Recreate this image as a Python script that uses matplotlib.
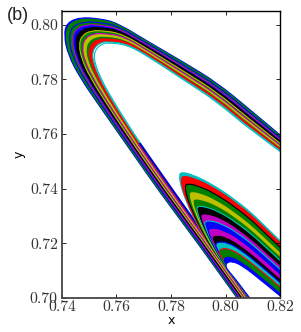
#!/usr/bin/env python3
"""Nested fold bands of an attractor, panel (b)."""

import matplotlib
matplotlib.use('Agg')
import matplotlib.pyplot as plt
import numpy as np
from matplotlib.patches import PathPatch
from matplotlib.path import Path

# all curve values are read off the picture, in units of 1e-4
# large fold: outermost curve first, each curve runs right end -> tip -> bottom
big_x_top = [8250, 8090, 7969, 7844, 7723]
big_x = [
    [7602, 7539, 7466, 7418, 7407, 7422, 7466, 7539, 7650, 7760, 7906, 8042, 8127],
    [7604, 7540, 7470, 7424, 7413, 7427, 7470, 7541, 7652, 7762, 7907, 8043, 8128],
    [7608, 7543, 7479, 7436, 7425, 7438, 7477, 7546, 7656, 7766, 7910, 8046, 8131],
    [7612, 7546, 7488, 7448, 7437, 7449, 7485, 7550, 7660, 7770, 7913, 8049, 8134],
    [7616, 7549, 7497, 7460, 7449, 7460, 7493, 7555, 7664, 7774, 7916, 8052, 8137],
    [7620, 7552, 7506, 7473, 7462, 7472, 7501, 7560, 7668, 7778, 7919, 8055, 8140],
    [7625, 7555, 7515, 7485, 7474, 7482, 7509, 7564, 7672, 7782, 7922, 8058, 8143],
    [7629, 7558, 7524, 7497, 7486, 7493, 7516, 7569, 7676, 7786, 7925, 8061, 8146],
    [7633, 7561, 7533, 7509, 7498, 7504, 7524, 7573, 7680, 7790, 7928, 8064, 8149],
    [7637, 7564, 7543, 7522, 7511, 7516, 7533, 7578, 7684, 7794, 7931, 8067, 8152],
    [7639, 7565, 7547, 7528, 7517, 7521, 7536, 7580, 7686, 7796, 7932, 8068, 8153],
]
big_y = [
    [7555, 7689, 7788, 7864, 7934, 8007, 8022, 8027, 8007, 7963, 7890, 7806, 7700, 7542, 7385, 7190, 7000, 6883],
    [7552, 7685, 7784, 7861, 7931, 8003, 8018, 8022, 8002, 7959, 7889, 7807, 7702, 7543, 7386, 7192, 7001, 6884],
    [7546, 7677, 7777, 7854, 7925, 7994, 8008, 8011, 7992, 7951, 7885, 7808, 7705, 7546, 7389, 7195, 7004, 6887],
    [7540, 7669, 7769, 7846, 7919, 7985, 7998, 8001, 7982, 7943, 7882, 7809, 7709, 7549, 7392, 7198, 7007, 6890],
    [7534, 7661, 7761, 7839, 7913, 7977, 7989, 7990, 7972, 7935, 7879, 7810, 7713, 7552, 7395, 7201, 7010, 6893],
    [7527, 7652, 7753, 7831, 7906, 7967, 7978, 7978, 7961, 7926, 7875, 7811, 7716, 7554, 7397, 7205, 7013, 6896],
    [7521, 7644, 7745, 7824, 7900, 7958, 7968, 7967, 7951, 7918, 7872, 7813, 7720, 7557, 7400, 7208, 7016, 6899],
    [7515, 7636, 7738, 7817, 7894, 7949, 7959, 7956, 7941, 7910, 7869, 7814, 7724, 7560, 7403, 7212, 7019, 6902],
    [7509, 7628, 7730, 7810, 7888, 7941, 7949, 7946, 7931, 7902, 7866, 7815, 7727, 7563, 7406, 7215, 7022, 6905],
    [7503, 7619, 7722, 7802, 7882, 7931, 7938, 7934, 7920, 7894, 7862, 7816, 7731, 7566, 7409, 7218, 7025, 6908],
    [7500, 7615, 7718, 7799, 7879, 7927, 7934, 7929, 7915, 7890, 7861, 7817, 7733, 7567, 7410, 7220, 7026, 6909],
]
big_colors = ['b', 'g', 'g', 'b', 'k', 'g', 'y', 'g', 'r', 'white', 'white']
big_edges = ['b', 'g', 'b', 'm', 'k', 'y', 'm', 'y', 'r', 'c', 'c']

# small fold inside the large one
hook_x = [
    [8255, 8127, 8028, 7943, 7881, 7840, 7829, 7837, 7851, 7881, 7943, 7991, 8134],
    [8255, 8127, 8029, 7946, 7886, 7846, 7836, 7844, 7859, 7888, 7949, 7996, 8136],
    [8255, 8128, 8032, 7953, 7896, 7859, 7851, 7859, 7874, 7903, 7960, 8006, 8140],
    [8255, 8128, 8035, 7959, 7905, 7872, 7865, 7874, 7889, 7917, 7972, 8015, 8144],
    [8255, 8129, 8038, 7966, 7915, 7885, 7879, 7889, 7904, 7931, 7983, 8025, 8147],
    [8255, 8130, 8041, 7972, 7925, 7898, 7894, 7904, 7919, 7946, 7994, 8035, 8151],
    [8255, 8130, 8044, 7979, 7934, 7911, 7908, 7919, 7934, 7960, 8006, 8044, 8155],
    [8255, 8131, 8047, 7985, 7944, 7924, 7923, 7934, 7949, 7975, 8017, 8054, 8159],
    [8255, 8131, 8050, 7992, 7954, 7937, 7937, 7949, 7964, 7989, 8029, 8064, 8163],
    [8255, 8132, 8052, 7998, 7963, 7950, 7951, 7964, 7979, 8003, 8040, 8073, 8167],
    [8255, 8132, 8055, 8005, 7973, 7963, 7966, 7979, 7994, 8018, 8052, 8083, 8170],
    [8255, 8133, 8058, 8011, 7983, 7976, 7980, 7994, 8009, 8032, 8063, 8093, 8174],
    [8255, 8134, 8061, 8018, 7994, 7991, 7996, 8011, 8026, 8048, 8076, 8104, 8179],
    [8255, 8134, 8064, 8024, 8002, 8002, 8009, 8024, 8039, 8061, 8086, 8112, 8182],
]
hook_y = [
    [7154, 7285, 7366, 7421, 7450, 7461, 7450, 7406, 7366, 7296, 7187, 7128, 6927],
    [7146, 7276, 7356, 7410, 7437, 7447, 7436, 7393, 7354, 7286, 7180, 7122, 6925],
    [7131, 7258, 7336, 7387, 7411, 7419, 7408, 7367, 7330, 7265, 7165, 7109, 6921],
    [7116, 7240, 7316, 7364, 7386, 7391, 7380, 7342, 7306, 7244, 7150, 7097, 6917],
    [7101, 7223, 7296, 7341, 7360, 7364, 7353, 7316, 7282, 7223, 7136, 7084, 6913],
    [7085, 7205, 7276, 7318, 7334, 7336, 7325, 7290, 7258, 7203, 7121, 7071, 6909],
    [7070, 7187, 7256, 7295, 7308, 7308, 7297, 7264, 7234, 7182, 7106, 7059, 6905],
    [7055, 7169, 7237, 7272, 7283, 7280, 7269, 7239, 7210, 7161, 7092, 7046, 6900],
    [7039, 7151, 7217, 7249, 7257, 7252, 7241, 7213, 7186, 7141, 7077, 7034, 6896],
    [7024, 7133, 7197, 7227, 7231, 7224, 7213, 7187, 7162, 7120, 7063, 7021, 6892],
    [7009, 7116, 7177, 7204, 7205, 7197, 7186, 7161, 7138, 7099, 7048, 7009, 6888],
    [6994, 7098, 7157, 7181, 7180, 7169, 7158, 7136, 7114, 7078, 7033, 6996, 6884],
    [6976, 7078, 7134, 7155, 7151, 7137, 7126, 7107, 7087, 7055, 7017, 6982, 6880],
    [6963, 7062, 7117, 7135, 7128, 7113, 7102, 7084, 7066, 7037, 7004, 6971, 6876],
]
hook_colors = ['c', 'r', 'g', 'y', 'g', 'k', 'm', 'b', 'm', 'k', 'c', 'g', 'b', 'white']
hook_edges = ['c', 'r', 'k', 'g', 'y', 'c', 'k', 'c', 'b', 'm', 'b', 'r', 'g', 'b']

x_ticks = [0.74, 0.76, 0.78, 0.80, 0.82]
y_ticks = [0.70, 0.72, 0.74, 0.76, 0.78, 0.80]
tick_labels_x = ['0.74', '0.76', '0.78', '0.80', '0.82']
tick_labels_y = ['0.70', '0.72', '0.74', '0.76', '0.78', '0.80']

# closes each fill outside the axes so the bands nest
CORNER = (0.83, 0.68)


def smooth_path(xs, ys, close=True):
    """Quadratic segments with the read points as control points"""
    pts = np.column_stack([xs, ys]) / 1e4
    verts = [pts[0]]
    codes = [Path.MOVETO]
    for i in range(1, len(pts) - 1):
        end = (pts[i] + pts[i + 1]) / 2 if i < len(pts) - 2 else pts[i + 1]
        verts += [pts[i], end]
        codes += [Path.CURVE3, Path.CURVE3]
    if close:
        verts += [CORNER, pts[0]]
        codes += [Path.LINETO, Path.CLOSEPOLY]
    return Path(verts, codes)


def fill_band(ax, xs, ys, color, edge, lw=0.8):
    ax.add_patch(PathPatch(smooth_path(xs, ys), facecolor=color, edgecolor=edge,
                           linewidth=lw, joinstyle='round'))


fig = plt.figure(figsize=(3.01, 3.32), dpi=100)
ax = fig.add_axes([62 / 301, 1 - 298 / 332, 218 / 301, 287 / 332])

for i, color in enumerate(big_colors):
    fill_band(ax, big_x_top + big_x[i], big_y[i], color, big_edges[i])

# the strip below the tip is blue and purple along its inner side
split = 13
for i, (color, lw) in enumerate([('m', 1.0), ('k', 0.9), ('b', 1.0)]):
    curve = -3 + i
    xs = (big_x_top + big_x[curve])[split:]
    ys = big_y[curve][split:]
    ax.add_patch(PathPatch(smooth_path(xs, ys, close=False), facecolor='none',
                           edgecolor=color, linewidth=lw))

for i, color in enumerate(hook_colors):
    fill_band(ax, hook_x[i], hook_y[i], color, hook_edges[i])

ax.set_xlim(0.74, 0.82)
ax.set_ylim(0.70, 0.805)
ax.set_xticks(x_ticks)
ax.set_yticks(y_ticks)
ax.set_xticklabels(tick_labels_x, family='cmr10', fontsize=11.3, color='#333333')
ax.set_yticklabels(tick_labels_y, family='cmr10', fontsize=11.3, color='#333333')
ax.tick_params(direction='in', length=3, width=0.6, top=True, right=True, pad=3)
ax.tick_params(axis='x', pad=1.5)
ax.set_xlabel('x', fontsize=9, labelpad=0)
ax.set_ylabel('y', fontsize=9, labelpad=3)

for side in ['left', 'bottom']:
    ax.spines[side].set_linewidth(1.3)
    ax.spines[side].set_color('#444444')
for side in ['top', 'right']:
    ax.spines[side].set_linewidth(1.0)

fig.text(18 / 301, 1 - 15 / 332, '(b)', fontsize=13, family='Liberation Sans',
         ha='center', va='center', color='#222222')

plt.savefig('out.png', dpi=100)
plt.close()
